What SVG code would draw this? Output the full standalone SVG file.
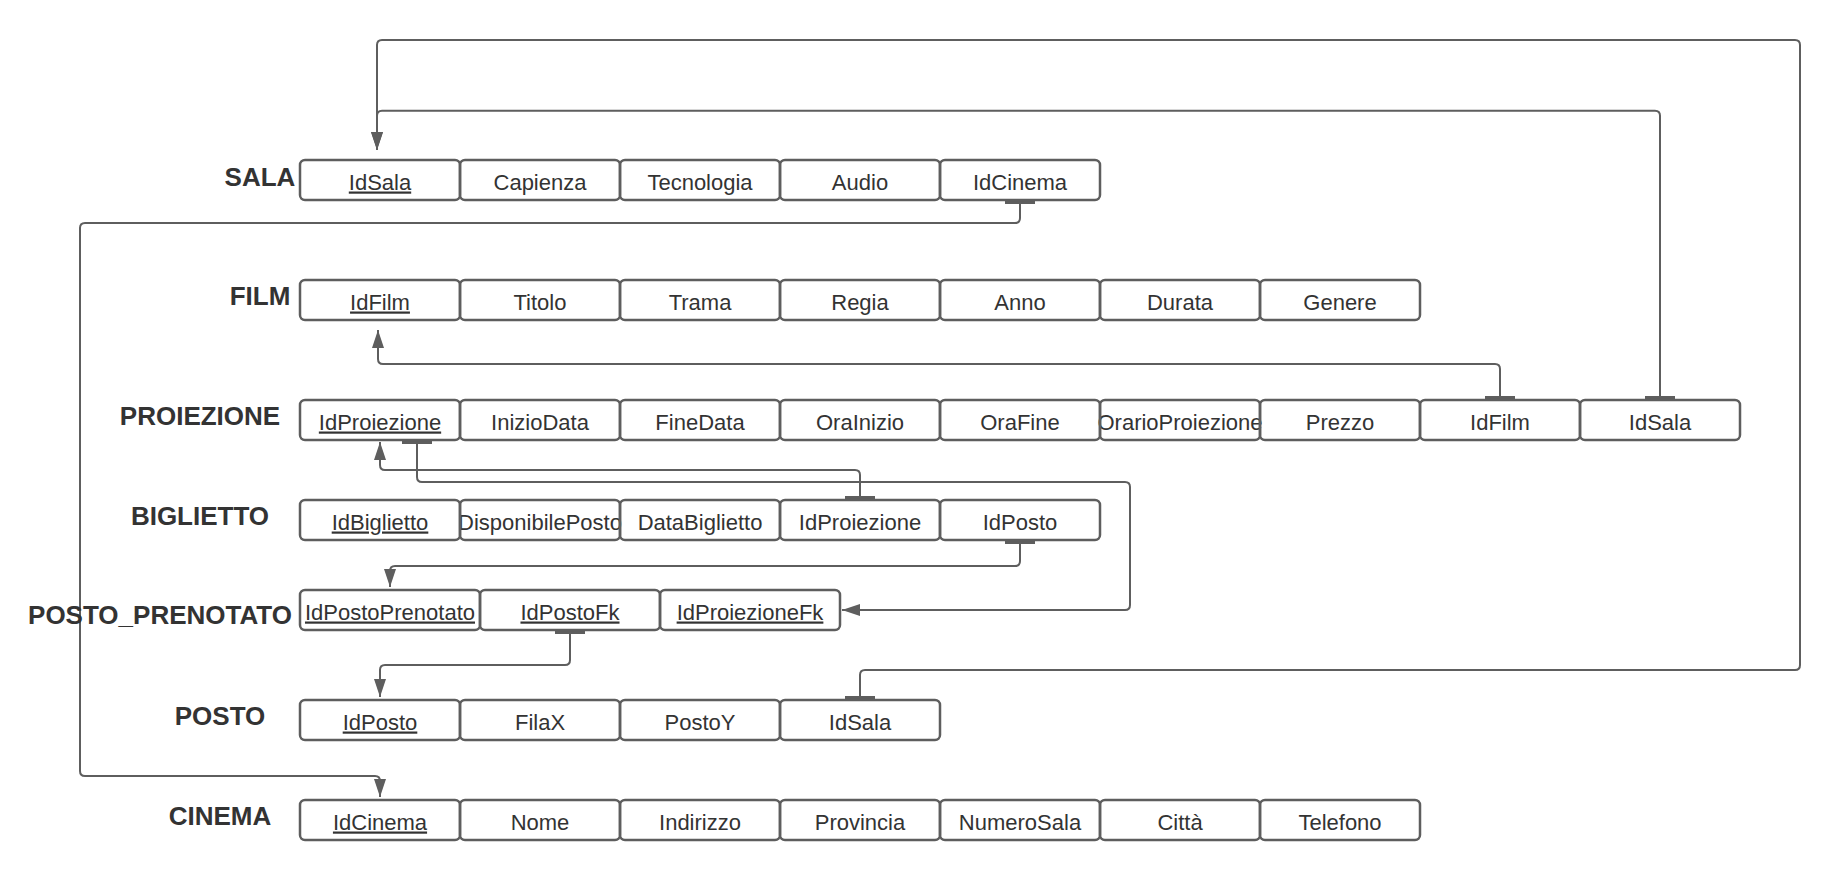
<svg xmlns="http://www.w3.org/2000/svg" width="1840" height="890" viewBox="0 0 1840 890">
<style>
.c{fill:none;stroke:#5e5e5e;stroke-width:2.5}
.t{font-family:"Liberation Sans",Arial,sans-serif;font-size:22px;fill:#333;text-anchor:middle}
.k{text-decoration:underline}
.l{font-family:"Liberation Sans",Arial,sans-serif;font-size:26px;font-weight:bold;fill:#333;text-anchor:middle}
.e{fill:none;stroke:#5e5e5e;stroke-width:2}
</style>
<defs>
<marker id="arr" viewBox="0 0 18 12" refX="18" refY="6" markerWidth="18" markerHeight="12" markerUnits="userSpaceOnUse" orient="auto">
<path d="M0,0 L18,6 L0,12 Z" fill="#5e5e5e"/>
</marker>
<marker id="tee" viewBox="0 -16 6 32" refX="0" refY="0" markerWidth="6" markerHeight="32" markerUnits="userSpaceOnUse" orient="auto">
<rect x="1" y="-15" width="3" height="30" fill="#5e5e5e"/>
</marker>
</defs>
<rect width="1840" height="890" fill="#fff"/>

<g id="connectors" class="e" marker-start="url(#tee)" marker-end="url(#arr)">
<path d="M1660,400 V115.7 Q1660,110.7 1655,110.7 H382 Q377,110.7 377,115.7 V150"/>
<path d="M860,700 V675 Q860,670 865,670 H1795 Q1800,670 1800,665 V45 Q1800,40 1795,40 H382 Q377,40 377,45 V150"/>
<path d="M1020,200 V218 Q1020,223 1015,223 H85 Q80,223 80,228 V771 Q80,776 85,776 H375 Q380,776 380,781 V797"/>
<path d="M1500,400 V369 Q1500,364 1495,364 H383 Q378,364 378,359 V330"/>
<path d="M860,500 V475 Q860,470 855,470 H385 Q380,470 380,465 V442"/>
<path d="M417,440 V477 Q417,482 422,482 H1125 Q1130,482 1130,487 V605 Q1130,610 1125,610 H842"/>
<path d="M1020,540 V561 Q1020,566 1015,566 H395 Q390,566 390,571 V587"/>
<path d="M570,630 V660 Q570,665 565,665 H385 Q380,665 380,670 V697"/>
</g>

<g id="SALA">
<text class="l" x="260" y="185.5">SALA</text>
<text class="t k" x="380" y="189.5">IdSala</text>
<text class="t" x="540" y="189.5">Capienza</text>
<text class="t" x="700" y="189.5">Tecnologia</text>
<text class="t" x="860" y="189.5">Audio</text>
<text class="t" x="1020" y="189.5">IdCinema</text>
<rect class="c" x="300" y="160" width="160" height="40" rx="5"/>
<rect class="c" x="460" y="160" width="160" height="40" rx="5"/>
<rect class="c" x="620" y="160" width="160" height="40" rx="5"/>
<rect class="c" x="780" y="160" width="160" height="40" rx="5"/>
<rect class="c" x="940" y="160" width="160" height="40" rx="5"/>
</g>

<g id="FILM">
<text class="l" x="260" y="305">FILM</text>
<text class="t k" x="380" y="309.5">IdFilm</text>
<text class="t" x="540" y="309.5">Titolo</text>
<text class="t" x="700" y="309.5">Trama</text>
<text class="t" x="860" y="309.5">Regia</text>
<text class="t" x="1020" y="309.5">Anno</text>
<text class="t" x="1180" y="309.5">Durata</text>
<text class="t" x="1340" y="309.5">Genere</text>
<rect class="c" x="300" y="280" width="160" height="40" rx="5"/>
<rect class="c" x="460" y="280" width="160" height="40" rx="5"/>
<rect class="c" x="620" y="280" width="160" height="40" rx="5"/>
<rect class="c" x="780" y="280" width="160" height="40" rx="5"/>
<rect class="c" x="940" y="280" width="160" height="40" rx="5"/>
<rect class="c" x="1100" y="280" width="160" height="40" rx="5"/>
<rect class="c" x="1260" y="280" width="160" height="40" rx="5"/>
</g>

<g id="PROIEZIONE">
<text class="l" x="200" y="425">PROIEZIONE</text>
<text class="t k" x="380" y="429.5">IdProiezione</text>
<text class="t" x="540" y="429.5">InizioData</text>
<text class="t" x="700" y="429.5">FineData</text>
<text class="t" x="860" y="429.5">OraInizio</text>
<text class="t" x="1020" y="429.5">OraFine</text>
<text class="t" x="1180" y="429.5">OrarioProiezione</text>
<text class="t" x="1340" y="429.5">Prezzo</text>
<text class="t" x="1500" y="429.5">IdFilm</text>
<text class="t" x="1660" y="429.5">IdSala</text>
<rect class="c" x="300" y="400" width="160" height="40" rx="5"/>
<rect class="c" x="460" y="400" width="160" height="40" rx="5"/>
<rect class="c" x="620" y="400" width="160" height="40" rx="5"/>
<rect class="c" x="780" y="400" width="160" height="40" rx="5"/>
<rect class="c" x="940" y="400" width="160" height="40" rx="5"/>
<rect class="c" x="1100" y="400" width="160" height="40" rx="5"/>
<rect class="c" x="1260" y="400" width="160" height="40" rx="5"/>
<rect class="c" x="1420" y="400" width="160" height="40" rx="5"/>
<rect class="c" x="1580" y="400" width="160" height="40" rx="5"/>
</g>

<g id="BIGLIETTO">
<text class="l" x="200" y="525">BIGLIETTO</text>
<text class="t k" x="380" y="529.5">IdBiglietto</text>
<text class="t" x="540" y="529.5">DisponibilePosto</text>
<text class="t" x="700" y="529.5">DataBiglietto</text>
<text class="t" x="860" y="529.5">IdProiezione</text>
<text class="t" x="1020" y="529.5">IdPosto</text>
<rect class="c" x="300" y="500" width="160" height="40" rx="5"/>
<rect class="c" x="460" y="500" width="160" height="40" rx="5"/>
<rect class="c" x="620" y="500" width="160" height="40" rx="5"/>
<rect class="c" x="780" y="500" width="160" height="40" rx="5"/>
<rect class="c" x="940" y="500" width="160" height="40" rx="5"/>
</g>

<g id="POSTO_PRENOTATO">
<text class="l" x="160" y="624">POSTO_PRENOTATO</text>
<text class="t k" x="390" y="619.5">IdPostoPrenotato</text>
<text class="t k" x="570" y="619.5">IdPostoFk</text>
<text class="t k" x="750" y="619.5">IdProiezioneFk</text>
<rect class="c" x="300" y="590" width="180" height="40" rx="5"/>
<rect class="c" x="480" y="590" width="180" height="40" rx="5"/>
<rect class="c" x="660" y="590" width="180" height="40" rx="5"/>
</g>

<g id="POSTO">
<text class="l" x="220" y="724.5">POSTO</text>
<text class="t k" x="380" y="729.5">IdPosto</text>
<text class="t" x="540" y="729.5">FilaX</text>
<text class="t" x="700" y="729.5">PostoY</text>
<text class="t" x="860" y="729.5">IdSala</text>
<rect class="c" x="300" y="700" width="160" height="40" rx="5"/>
<rect class="c" x="460" y="700" width="160" height="40" rx="5"/>
<rect class="c" x="620" y="700" width="160" height="40" rx="5"/>
<rect class="c" x="780" y="700" width="160" height="40" rx="5"/>
</g>

<g id="CINEMA">
<text class="l" x="220" y="825">CINEMA</text>
<text class="t k" x="380" y="829.5">IdCinema</text>
<text class="t" x="540" y="829.5">Nome</text>
<text class="t" x="700" y="829.5">Indirizzo</text>
<text class="t" x="860" y="829.5">Provincia</text>
<text class="t" x="1020" y="829.5">NumeroSala</text>
<text class="t" x="1180" y="829.5">Città</text>
<text class="t" x="1340" y="829.5">Telefono</text>
<rect class="c" x="300" y="800" width="160" height="40" rx="5"/>
<rect class="c" x="460" y="800" width="160" height="40" rx="5"/>
<rect class="c" x="620" y="800" width="160" height="40" rx="5"/>
<rect class="c" x="780" y="800" width="160" height="40" rx="5"/>
<rect class="c" x="940" y="800" width="160" height="40" rx="5"/>
<rect class="c" x="1100" y="800" width="160" height="40" rx="5"/>
<rect class="c" x="1260" y="800" width="160" height="40" rx="5"/>
</g>
</svg>
